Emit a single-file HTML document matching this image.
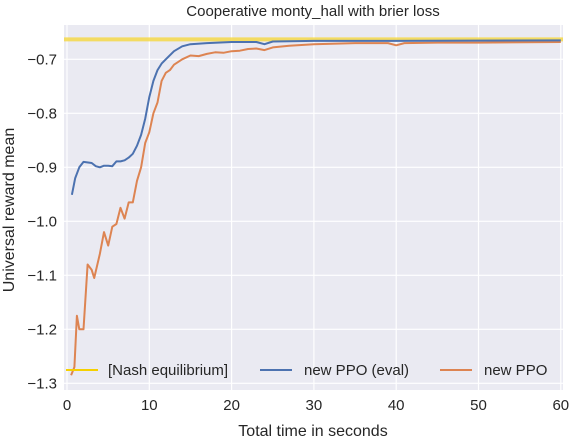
<!DOCTYPE html>
<html><head><meta charset="utf-8"><style>
body{margin:0;background:#fff;font-family:"Liberation Sans",sans-serif;}
svg text{font-family:"Liberation Sans",sans-serif;fill:#262626;}
</style></head><body>
<svg width="572" height="441">
<g id="plot"></g>
</svg>
<script>
const xTicks=[0,10,20,30,40,50,60];
const yTicks=[-0.7,-0.8,-0.9,-1.0,-1.1,-1.2,-1.3];
const yTickLabels=["−0.7","−0.8","−0.9","−1.0","−1.1","−1.2","−1.3"];
const nashValue=-0.663;
const evalT=[0.6,1,1.5,2,3,3.5,4,4.5,5,5.5,6,6.5,7,7.5,8,8.5,9,9.5,10,10.5,11,11.5,12,13,14,15,17,20,23,24,25,30,40,60];
const evalV=[-0.951,-0.92,-0.90,-0.89,-0.892,-0.898,-0.90,-0.897,-0.897,-0.898,-0.889,-0.889,-0.887,-0.882,-0.875,-0.86,-0.84,-0.81,-0.77,-0.74,-0.72,-0.708,-0.70,-0.685,-0.676,-0.672,-0.670,-0.668,-0.668,-0.672,-0.667,-0.666,-0.666,-0.665];
const ppoT=[0.5,0.9,1.2,1.5,2,2.5,3,3.3,4,4.5,5,5.5,6,6.5,7,7.5,8,8.5,9,9.5,10,10.5,11,11.5,12,12.5,13,14,15,16,17,18,19,20,21,22,23,24,25,27,30,35,39,40,41,45,50,60];
const ppoV=[-1.285,-1.27,-1.175,-1.20,-1.20,-1.08,-1.09,-1.105,-1.06,-1.02,-1.045,-1.01,-1.005,-0.975,-0.995,-0.965,-0.965,-0.925,-0.90,-0.855,-0.835,-0.80,-0.78,-0.74,-0.725,-0.72,-0.71,-0.70,-0.693,-0.694,-0.69,-0.687,-0.688,-0.685,-0.684,-0.681,-0.680,-0.683,-0.678,-0.675,-0.672,-0.670,-0.670,-0.674,-0.670,-0.669,-0.669,-0.668];
const L=64,R=563,T=25,B=390;
const sx=t=>67+t*8.23;
const sy=v=>59.3+(-0.7-v)*540;
const NS="http://www.w3.org/2000/svg";
const g=document.getElementById('plot');
function mk(tag,attrs,parent){const e=document.createElementNS(NS,tag);for(const k in attrs)e.setAttribute(k,attrs[k]);(parent||g).appendChild(e);return e;}
let bg=mk('rect',{x:L,y:T,width:R-L,height:B-T,fill:'#eaeaf2'});


xTicks.forEach(t=>{
 let l=mk('line',{x1:sx(t),x2:sx(t),y1:T,y2:B,stroke:'#fff','stroke-width':1.2});
 
 
 let tx=mk('text',{x:sx(t),y:B+20,'text-anchor':'middle','font-size':15});
 tx.textContent=t;
 
 
});
yTicks.forEach((v,i)=>{
 let l=mk('line',{x1:L,x2:R,y1:sy(v),y2:sy(v),stroke:'#fff','stroke-width':1.2});
 
 
 let tx=mk('text',{x:L-7,y:sy(v)+5,'text-anchor':'end','font-size':15});
 tx.textContent=yTickLabels[i];
 
 
});
let nash=mk('line',{x1:L,x2:R,y1:sy(nashValue),y2:sy(nashValue),stroke:'#f5d949','stroke-width':4,opacity:0.85});


function series(ts,vs,color,name){
 const d=ts.map((t,i)=>(i?'L':'M')+sx(t).toFixed(1)+','+sy(vs[i]).toFixed(1)).join('');
 let p=mk('path',{d:d,fill:'none',stroke:color,'stroke-width':2,'stroke-linejoin':'round'});
 
 
}
series(ppoT,ppoV,'#dd8452','new-ppo-line');
series(evalT,evalV,'#4c72b0','new-ppo-eval-line');
const legend=[['#f5d000','[Nash equilibrium]',66,108],['#4c72b0','new PPO (eval)',260,304],['#dd8452','new PPO',440,484]];
legend.forEach(e=>{
 let l=mk('line',{x1:e[2],x2:e[2]+32,y1:370,y2:370,stroke:e[0],'stroke-width':2});
 
 
 let tx=mk('text',{x:e[3],y:375,'font-size':15});
 tx.textContent=e[1];
 
 
});
let title=mk('text',{x:313,y:16,'text-anchor':'middle','font-size':15});
title.textContent='Cooperative monty_hall with brier loss';


let xl=mk('text',{x:313,y:436,'text-anchor':'middle','font-size':16});
xl.textContent='Total time in seconds';


let yl=mk('text',{x:0,y:0,'text-anchor':'middle','font-size':16,transform:'translate(14,210) rotate(-90)'});
yl.textContent='Universal reward mean';


</script>
</body></html>
